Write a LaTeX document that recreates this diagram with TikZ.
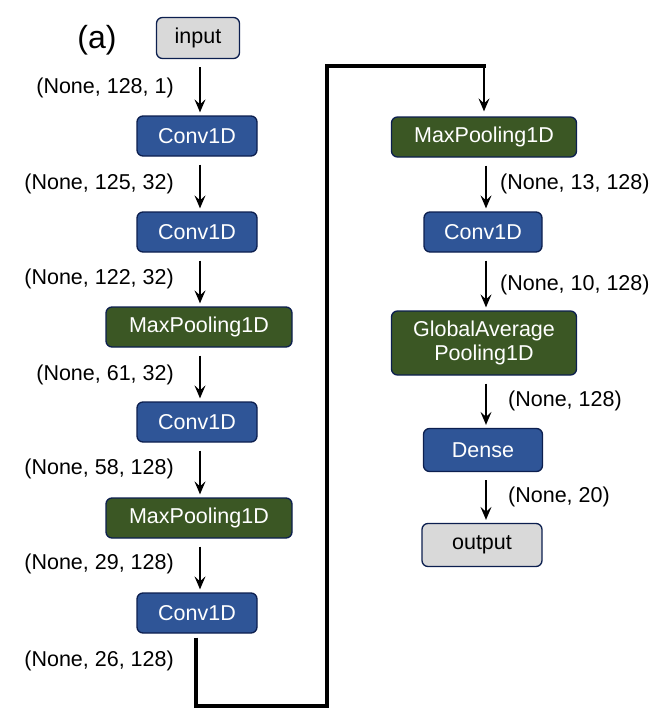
\documentclass[tikz,border=0pt]{standalone}
\usepackage{fontspec}
\setmainfont{Liberation Sans}
\usetikzlibrary{arrows.meta}
\definecolor{convblue}{HTML}{2F5597}
\definecolor{poolgreen}{HTML}{3B5724}
\definecolor{iogray}{HTML}{D9D9D9}
\definecolor{navyedge}{HTML}{0C1F4F}
\tikzset{
  x=1pt, y=-1pt,
  box/.style={draw=navyedge, line width=1.3pt, rounded corners=6pt, align=center,
    inner sep=0pt, font=\fontsize{21.5}{24.5}\selectfont},
  convbox/.style={box, fill=convblue, text=white, minimum width=120pt, minimum height=40pt},
  poolbox/.style={box, fill=poolgreen, text=white, minimum width=186pt, minimum height=40pt},
  iobox/.style={box, fill=iogray, text=black, minimum height=41pt},
  lbl/.style={font=\fontsize{21.5}{24.5}\selectfont, inner sep=0pt},
  arr/.style={-{Stealth[length=13pt,width=11pt,inset=5pt]}, line width=1.5pt},
  thick path/.style={line width=3.2pt, line join=miter}
}
\begin{document}
\begin{tikzpicture}
\useasboundingbox (0,0) rectangle (670,716);
% left column
\node[iobox, minimum width=83pt] (in) at (198,38) {input};
\node[convbox] (c1) at (197,136) {Conv1D};
\node[convbox] (c2) at (197,232) {Conv1D};
\node[poolbox] (p1) at (199,327) {MaxPooling1D};
\node[convbox] (c3) at (197,422) {Conv1D};
\node[poolbox] (p2) at (199,518) {MaxPooling1D};
\node[convbox] (c4) at (197,613) {Conv1D};
% right column
\node[poolbox, minimum width=185pt] (p3) at (484,137) {MaxPooling1D};
\node[convbox, minimum width=118pt] (c5) at (483,232) {Conv1D};
\node[poolbox, minimum width=185pt, minimum height=64pt] (g) at (484,343) {GlobalAverage\\Pooling1D};
\node[convbox, minimum width=119pt, minimum height=43pt] (d) at (483,450) {Dense};
\node[iobox, minimum width=120pt, minimum height=43pt] (out) at (482,545) {output};

\node[font=\fontsize{32}{36}\selectfont, inner sep=0pt] (lab) at (97,40) {(a)};

% arrows left
\draw[arr] ([yshift=-8pt]in.south -| 200,0) -- ([yshift=3pt]c1.north -| 200,0);
\draw[arr] ([yshift=-8pt]c1.south -| 200,0) -- ([yshift=3pt]c2.north -| 200,0);
\draw[arr] ([yshift=-8pt]c2.south -| 200,0) -- ([yshift=3pt]p1.north -| 200,0);
\draw[arr] ([yshift=-8pt]p1.south -| 200,0) -- ([yshift=3pt]c3.north -| 200,0);
\draw[arr] ([yshift=-8pt]c3.south -| 200,0) -- ([yshift=3pt]p2.north -| 200,0);
\draw[arr] ([yshift=-8pt]p2.south -| 200,0) -- ([yshift=3pt]c4.north -| 200,0);
% arrows right
\draw[arr] ([yshift=-8pt]p3.south -| 486,0) -- ([yshift=3pt]c5.north -| 486,0);
\draw[arr] ([yshift=-8pt]c5.south -| 486,0) -- ([yshift=3pt]g.north -| 486,0);
\draw[arr] ([yshift=-8pt]g.south -| 486,0) -- ([yshift=3pt]d.north -| 486,0);
\draw[arr] ([yshift=-8pt]d.south -| 486,0) -- ([yshift=3pt]out.north -| 486,0);

% connecting path
\coordinate (b1) at (196,706);
\coordinate (b2) at (327,706);
\coordinate (t1) at (327,66);
\coordinate (t2) at (484,66);
\draw[thick path] ([yshift=-4pt]c4.south -| 196,0) -- (b1) -- (b2) -- (t1) -- (t2) -- (484,68);
\draw[arr] (484,65) -- ([yshift=5pt]p3.north -| 484,0);

% labels left (right-aligned at x=174)
\node[lbl, anchor=east] (l1) at (174,88) {(None, 128, 1)};
\node[lbl, anchor=east] (l2) at (174,184) {(None, 125, 32)};
\node[lbl, anchor=east] (l3) at (174,279) {(None, 122, 32)};
\node[lbl, anchor=east] (l4) at (174,375) {(None, 61, 32)};
\node[lbl, anchor=east] (l5) at (174,469) {(None, 58, 128)};
\node[lbl, anchor=east] (l6) at (174,564) {(None, 29, 128)};
\node[lbl, anchor=east] (l7) at (174,661) {(None, 26, 128)};
% labels right
\node[lbl, anchor=west] (r1) at (500,184) {(None, 13, 128)};
\node[lbl, anchor=west] (r2) at (500,285) {(None, 10, 128)};
\node[lbl, anchor=west] (r3) at (508,401) {(None, 128)};
\node[lbl, anchor=west] (r4) at (508,497) {(None, 20)};
\end{tikzpicture}
\end{document}
